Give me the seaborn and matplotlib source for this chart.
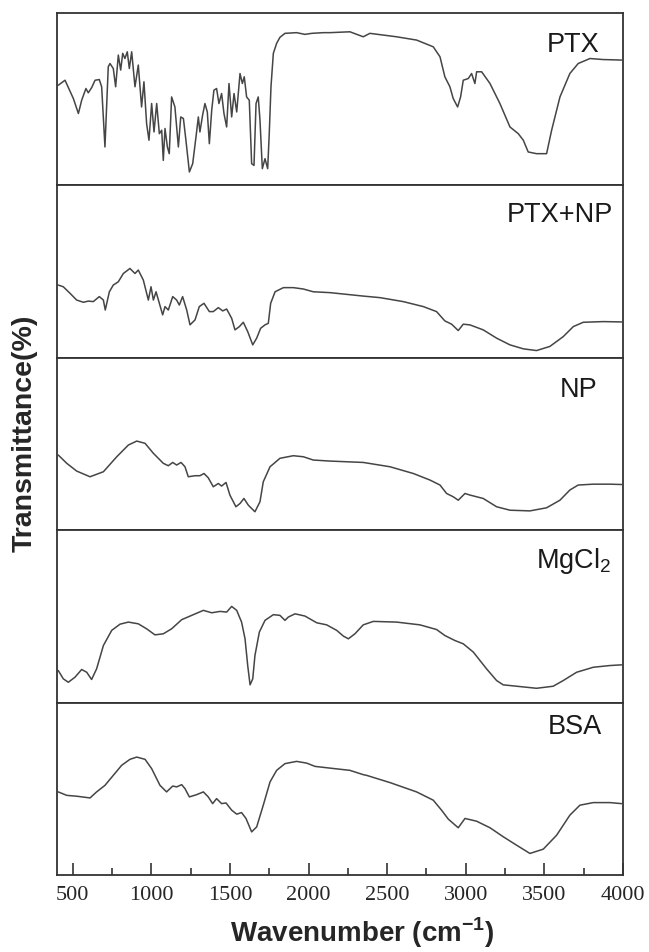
import numpy as np
import pandas as pd
import matplotlib
matplotlib.use("Agg")
import matplotlib.pyplot as plt
import seaborn as sns

# --- Spectra (wavenumber, relative transmittance 0..1 within each panel) ---
ptx_wn = [408, 451, 472, 504, 536, 557, 584, 599, 621, 642, 669, 684, 705, 726, 737, 758, 773, 790,
          805, 818, 832, 847, 860, 875, 896, 917, 938, 953, 970, 985, 1002, 1017, 1034, 1051, 1066,
          1076, 1087, 1102, 1114, 1129, 1150, 1172, 1187, 1204, 1220, 1242, 1263, 1284, 1299, 1309,
          1326, 1341, 1356, 1369, 1384, 1398, 1415, 1430, 1447, 1462, 1479, 1494, 1511, 1526, 1543,
          1564, 1579, 1591, 1606, 1623, 1638, 1653, 1666, 1680, 1691, 1706, 1723, 1740, 1750, 1761,
          1776, 1797, 1818, 1850, 1924, 1977, 2020, 2094, 2136, 2263, 2348, 2390, 2560, 2687, 2793,
          2836, 2867, 2899, 2920, 2948, 2967, 2984, 3016, 3037, 3058, 3069, 3101, 3154, 3217, 3281,
          3334, 3366, 3397, 3450, 3514, 3546, 3599, 3662, 3715, 3790, 3874, 3991]
ptx_t = [0.581, 0.61, 0.568, 0.504, 0.417, 0.494, 0.562, 0.537, 0.568, 0.61, 0.614, 0.572, 0.223,
         0.688, 0.707, 0.678, 0.572, 0.756, 0.669, 0.766, 0.736, 0.775, 0.678, 0.775, 0.572, 0.698,
         0.455, 0.601, 0.358, 0.262, 0.475, 0.31, 0.475, 0.3, 0.32, 0.145, 0.33, 0.223, 0.184, 0.513,
         0.455, 0.223, 0.397, 0.388, 0.262, 0.078, 0.126, 0.281, 0.397, 0.31, 0.407, 0.475, 0.426,
         0.242, 0.436, 0.552, 0.562, 0.475, 0.533, 0.417, 0.339, 0.591, 0.397, 0.533, 0.426, 0.649,
         0.591, 0.63, 0.513, 0.494, 0.126, 0.116, 0.475, 0.513, 0.378, 0.097, 0.155, 0.097, 0.3,
         0.572, 0.766, 0.824, 0.859, 0.882, 0.886, 0.876, 0.882, 0.886, 0.886, 0.891, 0.862, 0.882,
         0.862, 0.843, 0.804, 0.746, 0.63, 0.572, 0.504, 0.455, 0.513, 0.61, 0.62, 0.649, 0.591,
         0.659, 0.659, 0.591, 0.475, 0.339, 0.3, 0.262, 0.194, 0.184, 0.184, 0.32, 0.513, 0.649,
         0.707, 0.736, 0.73, 0.727]

ptxnp_wn = [408, 440, 483, 525, 568, 599, 631, 669, 695, 707, 733, 758, 790, 822, 864, 896, 917, 949,
            981, 998, 1013, 1030, 1051, 1072, 1087, 1108, 1136, 1161, 1178, 1199, 1225, 1246, 1278,
            1305, 1335, 1369, 1394, 1426, 1454, 1479, 1511, 1532, 1560, 1585, 1613, 1645, 1670, 1695,
            1723, 1744, 1759, 1787, 1840, 1903, 1967, 2030, 2136, 2348, 2454, 2602, 2730, 2814, 2867,
            2910, 2952, 2984, 3026, 3111, 3196, 3281, 3366, 3450, 3535, 3620, 3684, 3747, 3874, 3991]
ptxnp_t = [0.422, 0.412, 0.374, 0.335, 0.322, 0.329, 0.326, 0.355, 0.335, 0.277, 0.383, 0.422, 0.441,
           0.489, 0.518, 0.489, 0.509, 0.451, 0.335, 0.412, 0.335, 0.383, 0.316, 0.249, 0.297, 0.277,
           0.355, 0.335, 0.306, 0.355, 0.277, 0.191, 0.22, 0.297, 0.316, 0.268, 0.268, 0.291, 0.272,
           0.283, 0.229, 0.162, 0.181, 0.206, 0.152, 0.075, 0.114, 0.171, 0.191, 0.2, 0.316, 0.383,
           0.407, 0.407, 0.399, 0.383, 0.378, 0.358, 0.349, 0.326, 0.297, 0.268, 0.214, 0.195, 0.158,
           0.195, 0.191, 0.162, 0.114, 0.075, 0.052, 0.042, 0.066, 0.123, 0.181, 0.206, 0.21, 0.208]

np_wn = [408, 462, 525, 610, 695, 780, 854, 907, 960, 1013, 1076, 1108, 1136, 1161, 1189, 1214, 1235,
         1278, 1309, 1335, 1362, 1394, 1426, 1447, 1475, 1500, 1538, 1564, 1589, 1617, 1659, 1691,
         1712, 1755, 1818, 1903, 1967, 2030, 2136, 2348, 2518, 2666, 2772, 2836, 2878, 2920, 2952,
         2995, 3026, 3111, 3196, 3281, 3408, 3514, 3599, 3662, 3715, 3811, 3917, 3991]
np_t = [0.436, 0.388, 0.343, 0.31, 0.339, 0.426, 0.494, 0.517, 0.504, 0.446, 0.388, 0.374, 0.393,
        0.378, 0.393, 0.368, 0.31, 0.316, 0.316, 0.329, 0.304, 0.252, 0.271, 0.256, 0.277, 0.203,
        0.136, 0.155, 0.184, 0.145, 0.107, 0.165, 0.281, 0.368, 0.417, 0.432, 0.426, 0.407, 0.401,
        0.393, 0.368, 0.329, 0.291, 0.262, 0.213, 0.194, 0.174, 0.213, 0.204, 0.184, 0.136, 0.116,
        0.112, 0.13, 0.174, 0.233, 0.262, 0.267, 0.267, 0.265]

mgcl2_wn = [408, 440, 472, 514, 557, 589, 620, 652, 695, 748, 801, 854, 917, 970, 1023, 1076, 1129,
            1193, 1267, 1331, 1384, 1437, 1479, 1511, 1543, 1574, 1596, 1613, 1628, 1645, 1659, 1687,
            1723, 1776, 1818, 1850, 1871, 1914, 1977, 2052, 2115, 2179, 2221, 2253, 2295, 2348, 2412,
            2560, 2708, 2814, 2867, 2931, 2984, 3048, 3132, 3196, 3238, 3323, 3450, 3556, 3620, 3705,
            3811, 3917, 3991]
mgcl2_t = [0.186, 0.138, 0.118, 0.147, 0.192, 0.176, 0.134, 0.196, 0.331, 0.419, 0.455, 0.467, 0.457,
           0.428, 0.393, 0.399, 0.428, 0.481, 0.51, 0.535, 0.521, 0.529, 0.525, 0.558, 0.535, 0.467,
           0.37, 0.215, 0.103, 0.138, 0.273, 0.409, 0.477, 0.51, 0.506, 0.477, 0.496, 0.515, 0.502,
           0.463, 0.451, 0.419, 0.386, 0.37, 0.399, 0.451, 0.471, 0.467, 0.451, 0.424, 0.389, 0.36,
           0.341, 0.293, 0.196, 0.128, 0.103, 0.095, 0.083, 0.095, 0.128, 0.176, 0.205, 0.215, 0.219]

bsa_wn = [408, 462, 525, 610, 652, 705, 758, 811, 864, 907, 960, 1002, 1055, 1097, 1136, 1161, 1193,
          1214, 1242, 1288, 1331, 1362, 1390, 1415, 1447, 1475, 1511, 1543, 1574, 1602, 1638, 1670,
          1712, 1755, 1797, 1850, 1924, 1988, 2041, 2136, 2263, 2348, 2369, 2518, 2687, 2793, 2846,
          2889, 2952, 2995, 3069, 3154, 3238, 3323, 3408, 3493, 3578, 3662, 3726, 3811, 3917, 3991]
bsa_t = [0.482, 0.462, 0.457, 0.447, 0.482, 0.52, 0.578, 0.636, 0.671, 0.684, 0.671, 0.617, 0.52,
         0.482, 0.516, 0.511, 0.524, 0.501, 0.453, 0.466, 0.482, 0.453, 0.414, 0.443, 0.414, 0.418,
         0.376, 0.353, 0.362, 0.328, 0.25, 0.279, 0.405, 0.54, 0.607, 0.646, 0.659, 0.649, 0.63, 0.62,
         0.607, 0.582, 0.578, 0.536, 0.482, 0.434, 0.376, 0.324, 0.274, 0.328, 0.312, 0.274, 0.222,
         0.173, 0.125, 0.15, 0.231, 0.347, 0.405, 0.42, 0.42, 0.414]

samples = ["PTX", "PTX+NP", "NP", "MgCl$_2$", "BSA"]
spectra = [(ptx_wn, ptx_t), (ptxnp_wn, ptxnp_t), (np_wn, np_t), (mgcl2_wn, mgcl2_t), (bsa_wn, bsa_t)]
# label placement in axes fraction (right edge, baseline)
label_pos = [(0.959, 0.773), (0.982, 0.786), (0.955, 0.773), (0.98, 0.779), (0.963, 0.815)]

# --- Plot ---
sns.set_style("white")
plt.rcParams['font.family'] = ['Liberation Sans', 'DejaVu Sans']
plt.rcParams['mathtext.fontset'] = 'custom'
plt.rcParams['mathtext.rm'] = 'Liberation Sans'
plt.rcParams['mathtext.bf'] = 'Liberation Sans:bold'

fig, axes = plt.subplots(5, 1, figsize=(6.49, 9.52), dpi=100, sharex=True)
fig.subplots_adjust(left=57 / 649, right=623 / 649, top=1 - 13 / 952, bottom=77 / 952, hspace=0)

line_color = '#454545'
for ax, name, (wn, t), (lx, ly) in zip(axes, samples, spectra, label_pos):
    df = pd.DataFrame({'wavenumber': wn, 'transmittance': t})
    sns.lineplot(data=df, x='wavenumber', y='transmittance', ax=ax, color=line_color,
                 linewidth=1.1, estimator=None, sort=False)
    ax.set_xlim(400, 4000)
    ax.set_ylim(0, 1)
    ax.set_yticks([])
    ax.set_xlabel('')
    ax.set_ylabel('')
    for sp in ax.spines.values():
        sp.set_color('#333333')
        sp.set_linewidth(1.3)
    ax.text(lx, ly, name, transform=ax.transAxes, ha='right', va='baseline',
            fontsize=19.5, color='#1a1a1a')
    ax.tick_params(axis='x', which='both', bottom=False, labelbottom=False)

bottom_ax = axes[-1]
bottom_ax.set_xticks([500, 1000, 1500, 2000, 2500, 3000, 3500, 4000])
bottom_ax.set_xticks([750, 1250, 1750, 2250, 2750, 3250, 3750], minor=True)
bottom_ax.tick_params(axis='x', which='major', direction='in', length=9, width=1.2,
                      bottom=True, labelbottom=True, pad=8, labelsize=16, color='#333333')
bottom_ax.tick_params(axis='x', which='minor', direction='in', length=5, width=1.2,
                      bottom=True, color='#333333')
for lbl in bottom_ax.get_xticklabels():
    lbl.set_fontfamily('Liberation Serif')

fig.text(362 / 649, 1 - 933 / 952, 'Wavenumber (cm$^{\\mathbf{-1}}$)', ha='center', va='center',
         fontsize=20, fontweight='bold')
fig.text(25 / 649, 1 - 433 / 952, 'Transmittance(%)', ha='center', va='center', rotation=90,
         fontsize=20.5, fontweight='bold')

fig.savefig('out.png', dpi=100)
